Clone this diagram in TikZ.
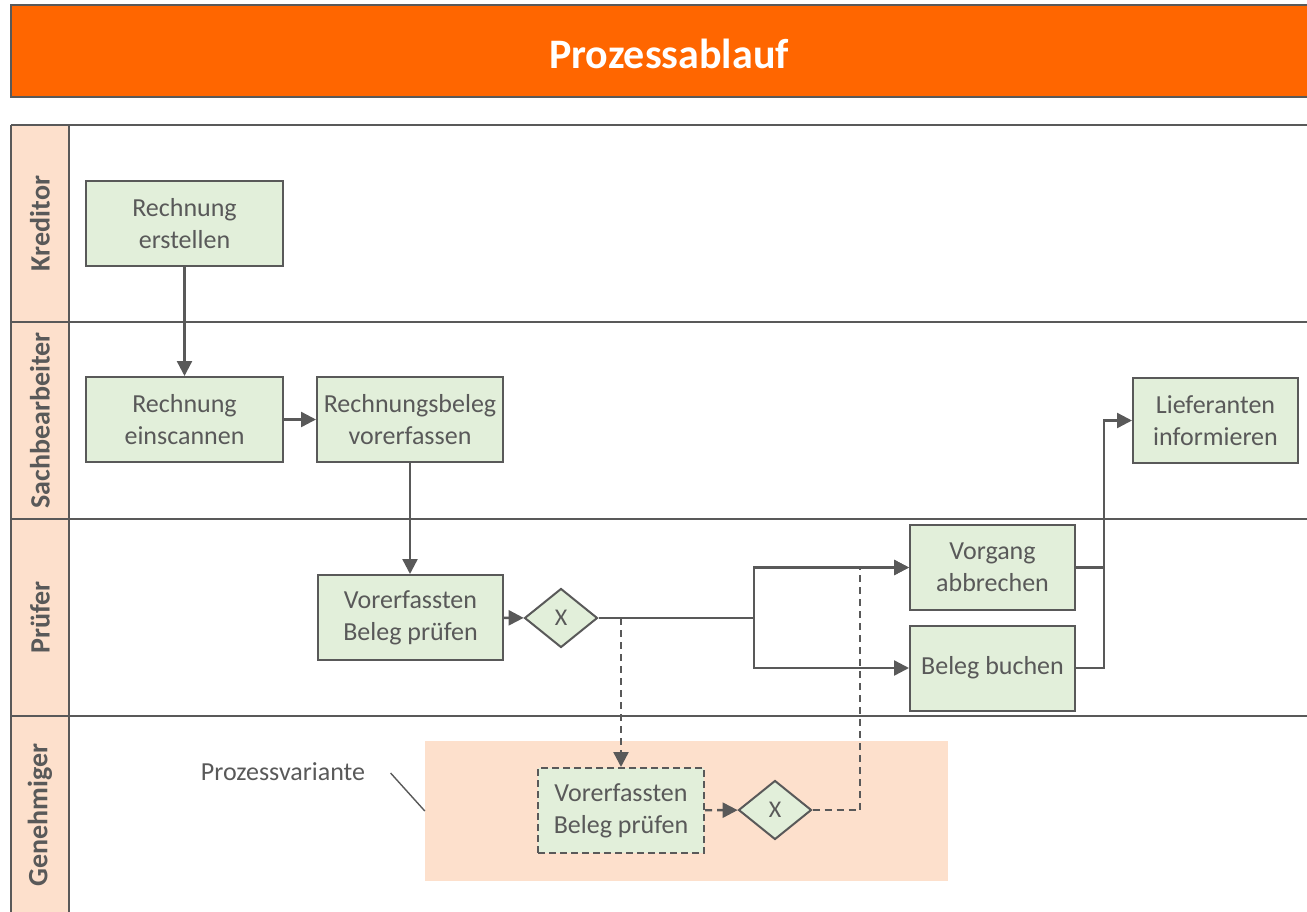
\documentclass[tikz,border=0pt]{standalone}
\usepackage{fontspec}
\setmainfont{Carlito}
\usetikzlibrary{shapes.geometric,arrows.meta}
\definecolor{orangebar}{HTML}{FF6600}
\definecolor{lanegray}{HTML}{595959}
\definecolor{peach}{HTML}{FDE0CC}
\definecolor{taskgreen}{HTML}{E2EFDA}

\begin{document}
\begin{tikzpicture}[x=1pt,y=-1pt,
  task/.style={draw=lanegray, line width=2pt, fill=taskgreen, text=lanegray,
    align=center, inner sep=0pt, minimum height=85pt, font=\fontsize{26}{32}\selectfont},
  gateway/.style={diamond, draw=lanegray, line width=2pt, fill=taskgreen, text=lanegray,
    inner sep=0pt, minimum width=73pt, minimum height=59pt, font=\fontsize{24}{28}\selectfont},
  flow/.style={draw=lanegray, line width=2.4pt, -{Triangle[length=15pt,width=15pt]}},
  lanename/.style={rotate=90, text=lanegray, font=\fontsize{28}{32}\selectfont\bfseries}]
\useasboundingbox (0,0) rectangle (1307,911);
%
\draw[fill=orangebar, draw=lanegray, line width=2.5pt] (11,5) rectangle (1320,97);
\node[text=white, anchor=base, font=\fontsize{42}{50}\selectfont\bfseries] (title) at (669,68) {Prozessablauf};
%
\fill[peach] (11,125) rectangle (69,920);
\foreach \y in {125,322,519,716} {
    \draw[lanegray, line width=2.5pt] (11,\y) -- (1320,\y);
}
\draw[lanegray, line width=2.5pt] (11,125) -- (11,920);
\draw[lanegray, line width=2.5pt] (69,125) -- (69,920);
%
\node[lanename] (lkred) at (40,223.5) {Kreditor};
\node[lanename] (lsach) at (40,420.5) {Sachbearbeiter};
\node[lanename] (lpruef) at (40,617.5) {Prüfer};
\node[lanename] (lgen) at (40,815) {Genehmiger};
%
\node[fill=peach, minimum width=523pt, minimum height=140pt, inner sep=0pt] (varbox) at (686.5,811) {};
\node[text=lanegray, font=\fontsize{26}{31}\selectfont] (variante) at (283,772) {Prozessvariante};
\draw[lanegray, line width=1.4pt] ([xshift=22pt,yshift=-1pt]variante.east) -- (varbox.west);
%
\node[task, minimum width=197pt] (erstellen) at (184.5,223.5) {Rechnung\\erstellen};
\node[task, minimum width=197pt] (scannen) at (184.5,419.5) {Rechnung\\einscannen};
\node[task, minimum width=186pt] (vorerfassen) at (410,419.5) {Rechnungsbeleg\\vorerfassen};
\node[task, minimum width=185pt] (pruefen) at (410.5,617.5) {Vorerfassten\\Beleg prüfen};
\node[gateway] (gw1) at (561,618) {X};
\node[task, minimum width=165pt] (abbrechen) at (992.5,567.5) {Vorgang\\abbrechen};
\node[task, minimum width=165pt] (buchen) at (992.5,668) {Beleg buchen};
\node[task, minimum width=165pt] (informieren) at (1215.5,420.5) {Lieferanten\\informieren};
\node[task, dashed, dash pattern=on 7pt off 4pt, minimum width=166pt] (gpruefen) at (621,810.5) {Vorerfassten\\Beleg prüfen};
\node[gateway] (gw2) at (775,810) {X};
%
\coordinate (split) at (754,618);
\coordinate (merge) at (1104,420.5);
\coordinate (back) at (860,567.5);
%
\draw[flow] (erstellen) -- (scannen);
\draw[flow] (scannen) -- (vorerfassen);
\draw[flow] (vorerfassen.south) -- (vorerfassen.south |- pruefen.north);
\draw[flow] (pruefen) -- (gw1);
\draw[lanegray, line width=2.4pt] (gw1.east) -- (split);
\draw[flow] (split) |- (abbrechen.west);
\draw[flow] (split) |- (buchen.west);
\draw[lanegray, line width=2.4pt] (abbrechen.east) -- (abbrechen.east -| merge);
\draw[flow] (buchen.east) -| (merge) -- (informieren.west);
%
\draw[flow, dash pattern=on 7pt off 5pt] (gw1.east -| gpruefen.north) -- (gpruefen.north);
\draw[flow, dash pattern=on 7pt off 5pt] (gpruefen) -- (gw2);
\draw[flow, dash pattern=on 7pt off 5pt] (gw2.east) -| (back) -- (abbrechen.west);
\end{tikzpicture}
\end{document}
